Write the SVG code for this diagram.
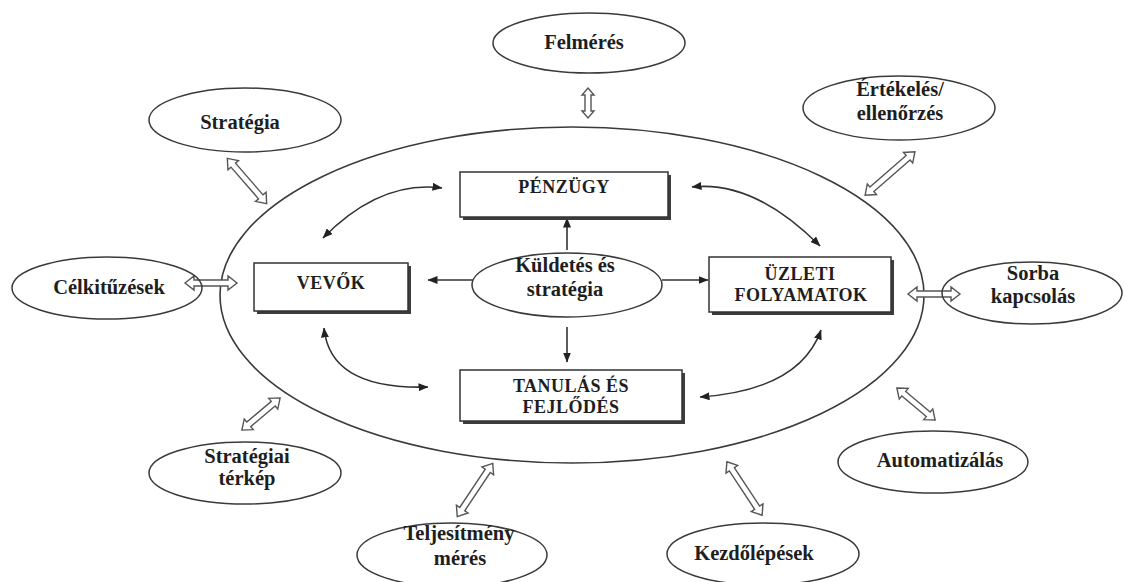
<svg xmlns="http://www.w3.org/2000/svg" width="1125" height="582" viewBox="0 0 1125 582">
<style>
.ell{fill:none;stroke:#3a3a3a;stroke-width:1.5}
.big{fill:none;stroke:#3a3a3a;stroke-width:1.6}
.box{fill:#fff;stroke:#333;stroke-width:1.5}
.shadow{fill:#3c3c3c}
.lbl{font-family:"Liberation Serif","Times New Roman",serif;font-weight:bold;font-size:20.5px;fill:#1e1e1e;text-anchor:middle}
.blbl{font-family:"Liberation Serif","Times New Roman",serif;font-weight:bold;font-size:18px;letter-spacing:0.5px;fill:#1e1e1e;text-anchor:middle}
.conn{fill:none;stroke:#333;stroke-width:1.6}
.dbl{fill:#fff;stroke:#555;stroke-width:1.4;stroke-linejoin:miter}
</style>
<defs>
<marker id="ah" viewBox="0 0 10 8" refX="9.5" refY="4" markerWidth="10" markerHeight="8" markerUnits="userSpaceOnUse" orient="auto-start-reverse">
<path d="M0,0 L10,4 L0,8 z" fill="#222"/>
</marker>
</defs>
<rect width="1125" height="582" fill="#fff"/>

<g id="outer">
<ellipse class="big" cx="572" cy="295" rx="352" ry="168"/>
</g>

<g id="connectors">
<path class="dbl" transform="translate(588,103) rotate(90)" d="M-15,0 L-8,-6 L-8,-3 L8,-3 L8,-6 L15,0 L8,6 L8,3 L-8,3 L-8,6 Z"/>
<path class="dbl" transform="translate(247,181) rotate(49)" d="M-30,0 L-21,-7 L-21,-3 L21,-3 L21,-7 L30,0 L21,7 L21,3 L-21,3 L-21,7 Z"/>
<path class="dbl" transform="translate(211,283)" d="M-26,0 L-17,-7 L-17,-3 L17,-3 L17,-7 L26,0 L17,7 L17,3 L-17,3 L-17,7 Z"/>
<path class="dbl" transform="translate(890,173.5) rotate(139)" d="M-33,0 L-24,-7 L-24,-3 L24,-3 L24,-7 L33,0 L24,7 L24,3 L-24,3 L-24,7 Z"/>
<path class="dbl" transform="translate(934,294)" d="M-26,0 L-17,-7 L-17,-3 L17,-3 L17,-7 L26,0 L17,7 L17,3 L-17,3 L-17,7 Z"/>
<path class="dbl" transform="translate(916,404) rotate(40)" d="M-25,0 L-16,-7 L-16,-3 L16,-3 L16,-7 L25,0 L16,7 L16,3 L-16,3 L-16,7 Z"/>
<path class="dbl" transform="translate(744.5,488.5) rotate(56.6)" d="M-32,0 L-23,-7 L-23,-3 L23,-3 L23,-7 L32,0 L23,7 L23,3 L-23,3 L-23,7 Z"/>
<path class="dbl" transform="translate(475,490) rotate(123.7)" d="M-32,0 L-23,-7 L-23,-3 L23,-3 L23,-7 L32,0 L23,7 L23,3 L-23,3 L-23,7 Z"/>
<path class="dbl" transform="translate(261,414) rotate(139.9)" d="M-25,0 L-16,-7 L-16,-3 L16,-3 L16,-7 L25,0 L16,7 L16,3 L-16,3 L-16,7 Z"/>
<line class="conn" x1="567" y1="250" x2="567" y2="218" marker-end="url(#ah)"/>
<line class="conn" x1="473" y1="280" x2="428" y2="280" marker-end="url(#ah)"/>
<line class="conn" x1="662" y1="280" x2="708" y2="280" marker-end="url(#ah)"/>
<line class="conn" x1="567" y1="327" x2="567" y2="362" marker-end="url(#ah)"/>
<path class="conn" d="M442,188 Q380,180 323,238" marker-start="url(#ah)" marker-end="url(#ah)"/>
<path class="conn" d="M692,187 Q754,180 820,246" marker-start="url(#ah)" marker-end="url(#ah)"/>
<path class="conn" d="M428,387 Q330,390 324,328" marker-start="url(#ah)" marker-end="url(#ah)"/>
<path class="conn" d="M700,397 Q800,390 821,330" marker-start="url(#ah)" marker-end="url(#ah)"/>
</g>

<g id="penzugy">
<rect class="shadow" x="463" y="175" width="208" height="45"/>
<rect class="box" x="460" y="172" width="208" height="45"/>
<text class="blbl" x="564" y="193">PÉNZÜGY</text>
</g>
<g id="vevok">
<rect class="shadow" x="257" y="266" width="154" height="48"/>
<rect class="box" x="254" y="263" width="154" height="48"/>
<text class="blbl" x="331" y="289">VEVŐK</text>
</g>
<g id="uzleti">
<rect class="shadow" x="712" y="260" width="182" height="55"/>
<rect class="box" x="709" y="257" width="182" height="55"/>
<text class="blbl" x="800" y="280">ÜZLETI</text>
<text class="blbl" x="801" y="301">FOLYAMATOK</text>
</g>
<g id="tanulas">
<rect class="shadow" x="463" y="373" width="222" height="51"/>
<rect class="box" x="460" y="370" width="222" height="51"/>
<text class="blbl" x="571" y="392">TANULÁS ÉS</text>
<text class="blbl" x="571" y="413">FEJLŐDÉS</text>
</g>

<g id="kuldetes">
<ellipse class="ell" cx="567" cy="285" rx="95" ry="32" fill="#fff"/>
<text class="lbl" x="565" y="272">Küldetés és</text>
<text class="lbl" x="565" y="296">stratégia</text>
</g>

<g id="felmeres">
<ellipse class="ell" cx="589" cy="43" rx="96" ry="30"/>
<text class="lbl" x="584" y="49">Felmérés</text>
</g>
<g id="strategia">
<ellipse class="ell" cx="245" cy="120" rx="96" ry="32"/>
<text class="lbl" x="240" y="129">Stratégia</text>
</g>
<g id="celkituzesek">
<ellipse class="ell" cx="107" cy="288" rx="95" ry="31"/>
<text class="lbl" x="109" y="294">Célkitűzések</text>
</g>
<g id="ertekeles">
<ellipse class="ell" cx="899" cy="108" rx="96" ry="32"/>
<text class="lbl" x="900" y="96">Értékelés/</text>
<text class="lbl" x="900" y="120">ellenőrzés</text>
</g>
<g id="sorba">
<ellipse class="ell" cx="1032" cy="293" rx="90" ry="31"/>
<text class="lbl" x="1033" y="280">Sorba</text>
<text class="lbl" x="1033" y="303">kapcsolás</text>
</g>
<g id="automatizalas">
<ellipse class="ell" cx="933" cy="462" rx="95" ry="31"/>
<text class="lbl" x="940" y="467">Automatizálás</text>
</g>
<g id="kezdolepesek">
<ellipse class="ell" cx="763" cy="554" rx="96" ry="31"/>
<text class="lbl" x="754" y="560">Kezdőlépések</text>
</g>
<g id="teljesitmeny">
<ellipse class="ell" cx="452" cy="555" rx="95" ry="32"/>
<text class="lbl" x="459" y="540">Teljesítmény</text>
<text class="lbl" x="460" y="565">mérés</text>
</g>
<g id="strategiai-terkep">
<ellipse class="ell" cx="245" cy="473" rx="96" ry="31"/>
<text class="lbl" x="247" y="463">Stratégiai</text>
<text class="lbl" x="247" y="485">térkép</text>
</g>
</svg>
